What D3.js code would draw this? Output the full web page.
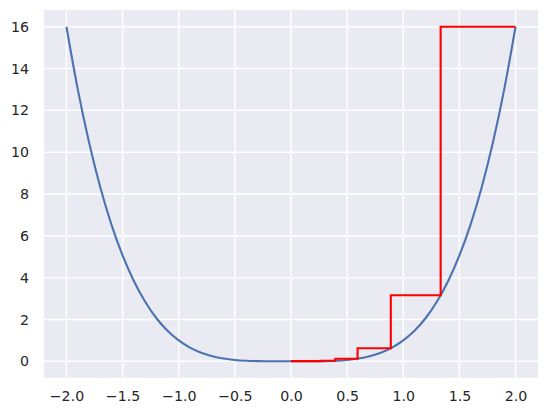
<!DOCTYPE html>
<html>
<head>
<meta charset="utf-8">
<script src="https://cdn.jsdelivr.net/npm/d3@7"></script>
<style>
  body { margin: 0; background: #fff; }
  text { font-family: "DejaVu Sans", sans-serif; fill: #262626; }
</style>
</head>
<body>
<svg id="chart" width="548" height="417"></svg>
<script>
// blue curve
var curveX = [-2.0, -1.9, -1.8, -1.7, -1.6, -1.5, -1.4, -1.3, -1.2, -1.1, -1.0,
              -0.9, -0.8, -0.7, -0.6, -0.5, -0.4, -0.3, -0.2, -0.1, 0.0,
               0.1, 0.2, 0.3, 0.4, 0.5, 0.6, 0.7, 0.8, 0.9, 1.0,
               1.1, 1.2, 1.3, 1.4, 1.5, 1.6, 1.7, 1.8, 1.9, 2.0];
var curveY = [16.0, 13.03, 10.50, 8.35, 6.55, 5.06, 3.84, 2.86, 2.07, 1.46, 1.00,
              0.656, 0.410, 0.240, 0.130, 0.063, 0.026, 0.008, 0.002, 0.0001, 0.0,
              0.0001, 0.002, 0.008, 0.026, 0.063, 0.130, 0.240, 0.410, 0.656, 1.00,
              1.46, 2.07, 2.86, 3.84, 5.06, 6.55, 8.35, 10.50, 13.03, 16.0];

// red steps: break points and the level held after each one
var stepX = [0.0, 0.263, 0.395, 0.593, 0.889, 1.333, 2.0];
var stepY = [0.005, 0.024, 0.123, 0.624, 3.16, 16.0, 16.0];

var xTicks = [-2.0, -1.5, -1.0, -0.5, 0.0, 0.5, 1.0, 1.5, 2.0];
var yTicks = [0, 2, 4, 6, 8, 10, 12, 14, 16];

var margin = {top: 10, right: 10, bottom: 39, left: 44};
var W = 548, H = 417;
var w = W - margin.left - margin.right, h = H - margin.top - margin.bottom;

var svg = d3.select("#chart");
var g = svg.append("g").attr("transform", "translate(" + margin.left + "," + margin.top + ")");

var x = d3.scaleLinear().domain([-2.2, 2.2]).range([0, w]);
var y = d3.scaleLinear().domain([-0.8, 16.8]).range([h, 0]);

g.append("rect").attr("width", w).attr("height", h).attr("fill", "#eaeaf2");

// grid
g.append("g").selectAll("line").data(xTicks).enter().append("line")
  .attr("x1", function(d) { return x(d); }).attr("x2", function(d) { return x(d); })
  .attr("y1", 0).attr("y2", h)
  .attr("stroke", "#fff").attr("stroke-width", 1.4);
g.append("g").selectAll("line").data(yTicks).enter().append("line")
  .attr("y1", function(d) { return y(d); }).attr("y2", function(d) { return y(d); })
  .attr("x1", 0).attr("x2", w)
  .attr("stroke", "#fff").attr("stroke-width", 1.4);

var fmtX = function(d) { return d3.format(".1f")(d).replace("-", "\u2212"); };

var xAxis = g.append("g").attr("transform", "translate(0," + h + ")")
  .call(d3.axisBottom(x).tickValues(xTicks).tickFormat(fmtX).tickSize(0).tickPadding(13));
var yAxis = g.append("g")
  .call(d3.axisLeft(y).tickValues(yTicks).tickSize(0).tickPadding(15));
[xAxis, yAxis].forEach(function(a) {
  a.select(".domain").remove();
  a.selectAll("text").attr("font-size", "14.2px").attr("fill", "#262626")
    .style("font-family", "DejaVu Sans, sans-serif");
});

var pts = curveX.map(function(d, i) { return [d, curveY[i]]; });
g.append("path").datum(pts)
  .attr("fill", "none").attr("stroke", "#4c72b0").attr("stroke-width", 2.1)
  .attr("d", d3.line().x(function(d) { return x(d[0]); }).y(function(d) { return y(d[1]); })
    .curve(d3.curveMonotoneX));

var steps = stepX.map(function(d, i) { return [d, stepY[i]]; });
g.append("path").datum(steps)
  .attr("fill", "none").attr("stroke", "#ff0000").attr("stroke-width", 2.1)
  .attr("d", d3.line().x(function(d) { return x(d[0]); }).y(function(d) { return y(d[1]); })
    .curve(d3.curveStepAfter));
</script>
</body>
</html>
